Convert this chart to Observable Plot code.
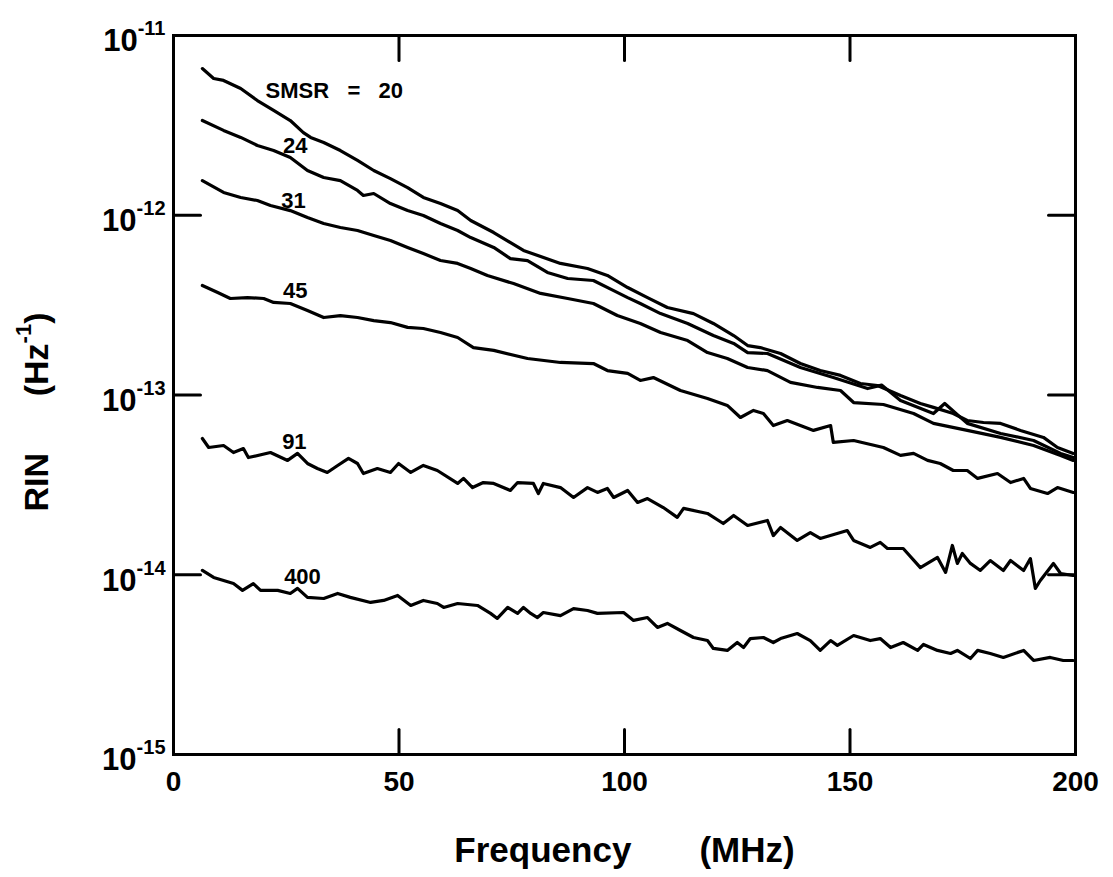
<!DOCTYPE html>
<html><head><meta charset="utf-8">
<script src="https://cdn.jsdelivr.net/npm/d3@7"></script>
<script src="https://cdn.jsdelivr.net/npm/@observablehq/plot@0.6"></script>
<style>body{margin:0;background:#fff}#chart svg{display:block}</style>
</head><body><div id="chart"></div>
<script>
// [frequency (MHz), log10 RIN (Hz^-1)]
const smsr20 = [[6.4,-11.184],[8.9,-11.239],[11.1,-11.250],[14.9,-11.295],[18.6,-11.362],[22.2,-11.417],[25.9,-11.473],[28.8,-11.540],[30.4,-11.567],[33.3,-11.595],[37.0,-11.640],[40.8,-11.695],[44.4,-11.751],[48.1,-11.796],[51.9,-11.846],[55.4,-11.901],[59.2,-11.935],[63.0,-11.974],[65.9,-12.029],[71.0,-12.096],[77.6,-12.196],[85.8,-12.268],[91.8,-12.296],[96.2,-12.335],[100.7,-12.402],[105.1,-12.458],[109.5,-12.513],[115.3,-12.547],[119.7,-12.602],[124.2,-12.669],[127.3,-12.725],[130.1,-12.736],[134.6,-12.769],[139.0,-12.825],[143.4,-12.864],[147.9,-12.891],[152.3,-12.936],[156.1,-12.947],[161.2,-13.003],[165.6,-13.047],[168.5,-13.069],[172.9,-13.103],[176.0,-13.142],[179.6,-13.153],[183.4,-13.158],[187.8,-13.197],[192.9,-13.236],[196.0,-13.292],[199.5,-13.325]];
const smsr24 = [[6.4,-11.473],[11.1,-11.528],[14.9,-11.567],[18.6,-11.612],[22.2,-11.640],[25.9,-11.679],[29.7,-11.751],[33.3,-11.790],[37.0,-11.807],[40.8,-11.862],[42.1,-11.890],[44.4,-11.879],[48.1,-11.935],[51.9,-11.974],[55.4,-12.001],[59.2,-12.046],[63.0,-12.085],[65.9,-12.124],[71.0,-12.179],[74.7,-12.241],[78.5,-12.252],[82.9,-12.318],[87.4,-12.352],[93.1,-12.363],[97.6,-12.419],[100.7,-12.458],[103.5,-12.491],[108.0,-12.547],[114.0,-12.602],[119.7,-12.669],[124.2,-12.713],[127.3,-12.764],[131.7,-12.769],[139.0,-12.847],[146.3,-12.903],[153.9,-12.964],[157.0,-12.945],[161.2,-13.031],[168.5,-13.103],[171.0,-13.047],[176.0,-13.158],[183.4,-13.214],[190.7,-13.253],[196.7,-13.325],[199.5,-13.348]];
const smsr31 = [[6.4,-11.807],[11.1,-11.873],[14.9,-11.901],[18.6,-11.918],[21.5,-11.946],[25.9,-11.974],[29.7,-12.013],[33.3,-12.046],[37.0,-12.068],[40.8,-12.085],[44.4,-12.113],[48.1,-12.140],[51.9,-12.179],[55.4,-12.213],[59.2,-12.252],[63.0,-12.268],[65.9,-12.296],[69.6,-12.335],[75.4,-12.380],[81.4,-12.435],[87.4,-12.463],[93.1,-12.491],[98.4,-12.558],[103.5,-12.602],[108.0,-12.652],[114.0,-12.697],[118.4,-12.764],[122.8,-12.797],[127.3,-12.847],[131.7,-12.864],[136.8,-12.930],[142.8,-12.958],[147.9,-12.975],[150.8,-13.042],[157.4,-13.053],[164.1,-13.103],[168.5,-13.158],[176.0,-13.197],[183.4,-13.236],[190.7,-13.281],[196.7,-13.336],[199.5,-13.364]];
const smsr45 = [[6.4,-12.391],[9.8,-12.430],[12.6,-12.463],[16.4,-12.458],[20.0,-12.463],[22.2,-12.485],[25.9,-12.491],[29.7,-12.530],[33.3,-12.569],[37.0,-12.558],[40.8,-12.569],[44.4,-12.586],[48.1,-12.597],[51.9,-12.624],[55.4,-12.630],[59.2,-12.652],[63.0,-12.680],[66.5,-12.736],[71.0,-12.752],[78.5,-12.797],[85.8,-12.819],[93.1,-12.825],[96.2,-12.864],[100.7,-12.880],[103.5,-12.919],[106.4,-12.903],[112.4,-12.975],[118.4,-13.019],[122.8,-13.058],[125.7,-13.125],[128.6,-13.086],[130.8,-13.103],[133.0,-13.170],[136.1,-13.142],[141.9,-13.197],[145.7,-13.170],[146.3,-13.264],[150.8,-13.253],[157.4,-13.292],[161.2,-13.336],[164.1,-13.325],[167.2,-13.364],[170.0,-13.381],[172.9,-13.420],[176.0,-13.420],[178.3,-13.464],[182.7,-13.437],[185.6,-13.487],[188.5,-13.464],[190.0,-13.520],[193.8,-13.548],[196.0,-13.515],[199.5,-13.542]];
const smsr91 = [[6.4,-13.242],[7.8,-13.292],[11.1,-13.281],[13.3,-13.320],[15.5,-13.298],[16.6,-13.348],[21.5,-13.320],[25.3,-13.364],[27.5,-13.325],[29.7,-13.381],[31.9,-13.409],[34.1,-13.431],[36.4,-13.392],[38.8,-13.353],[40.8,-13.381],[42.1,-13.437],[45.2,-13.409],[48.1,-13.431],[49.9,-13.381],[52.6,-13.431],[55.4,-13.392],[58.5,-13.420],[63.0,-13.492],[64.3,-13.464],[66.3,-13.515],[68.7,-13.487],[71.0,-13.492],[74.7,-13.531],[76.3,-13.487],[79.8,-13.492],[80.9,-13.548],[82.0,-13.492],[85.8,-13.515],[88.7,-13.570],[91.8,-13.515],[94.0,-13.542],[96.2,-13.520],[97.6,-13.570],[100.7,-13.531],[102.9,-13.598],[105.1,-13.576],[108.6,-13.626],[111.7,-13.681],[113.1,-13.631],[118.4,-13.659],[121.9,-13.715],[124.2,-13.670],[127.3,-13.726],[131.7,-13.698],[133.0,-13.782],[134.6,-13.737],[138.3,-13.809],[141.2,-13.765],[143.4,-13.798],[149.4,-13.754],[150.8,-13.809],[154.5,-13.848],[156.7,-13.820],[158.3,-13.854],[161.8,-13.854],[165.6,-13.960],[169.4,-13.904],[171.2,-13.987],[172.7,-13.837],[173.8,-13.937],[174.9,-13.882],[176.7,-13.937],[178.9,-13.976],[181.1,-13.921],[184.0,-13.976],[185.6,-13.921],[188.5,-13.976],[190.0,-13.910],[191.1,-14.076],[192.2,-14.032],[195.1,-13.937],[196.7,-13.993],[199.5,-14.004]];
const smsr400 = [[6.4,-13.976],[8.9,-14.015],[13.3,-14.049],[15.3,-14.087],[17.7,-14.049],[19.3,-14.087],[23.1,-14.087],[25.9,-14.104],[27.5,-14.076],[29.7,-14.126],[33.3,-14.132],[36.4,-14.104],[39.2,-14.126],[43.7,-14.154],[46.6,-14.143],[49.7,-14.115],[52.6,-14.171],[55.4,-14.143],[58.5,-14.160],[59.9,-14.182],[63.0,-14.160],[67.4,-14.171],[70.3,-14.215],[71.8,-14.243],[74.1,-14.182],[76.3,-14.215],[77.6,-14.182],[79.2,-14.215],[80.7,-14.238],[82.0,-14.210],[85.8,-14.227],[88.7,-14.188],[91.8,-14.199],[94.0,-14.215],[99.8,-14.210],[102.0,-14.254],[105.1,-14.238],[107.3,-14.293],[109.5,-14.271],[112.4,-14.310],[115.3,-14.349],[118.4,-14.366],[119.7,-14.410],[122.8,-14.421],[125.0,-14.377],[126.4,-14.405],[127.9,-14.355],[130.8,-14.349],[133.0,-14.377],[134.6,-14.355],[138.3,-14.327],[141.2,-14.366],[143.4,-14.421],[145.7,-14.366],[147.2,-14.393],[150.8,-14.338],[154.5,-14.366],[156.7,-14.355],[159.0,-14.405],[161.8,-14.377],[165.0,-14.421],[166.3,-14.388],[169.4,-14.421],[172.3,-14.438],[173.8,-14.421],[176.7,-14.466],[178.3,-14.421],[181.1,-14.438],[184.0,-14.460],[188.5,-14.421],[190.7,-14.477],[194.4,-14.460],[197.3,-14.477],[199.5,-14.477]];

const seriesNames = ["20", "24", "31", "45", "91", "400"];
const seriesData = [smsr20, smsr24, smsr31, smsr45, smsr91, smsr400];

// curve labels
const titleLabel = "SMSR\u00a0\u00a0\u00a0=\u00a0\u00a0\u00a020";
const titleFreq = 20.4;
const titleLog = -11.306;
const numberLabels = ["24", "31", "45", "91", "400"];
const numberFreq = [27.0, 26.6, 27.0, 26.8, 28.6];
const numberLog = [-11.612, -11.918, -12.419, -13.259, -14.010];

const xTicks = [0, 50, 100, 150, 200];
const xInnerTicks = [50, 100, 150];
const yTicks = [1e-11, 1e-12, 1e-13, 1e-14, 1e-15];
const yInnerTicks = [1e-12, 1e-13, 1e-14];
const xTitle = "Frequency\u00a0\u00a0\u00a0\u00a0\u00a0\u00a0\u00a0(MHz)";
const yTitle = "RIN\u00a0\u00a0\u00a0\u00a0\u00a0\u00a0(Hz^-1^)";

const rows = seriesNames.flatMap((name, i) => seriesData[i].map(([f, lg]) => ({name, f, rin: 10 ** lg})));
const numLabels = numberLabels.map((text, i) => ({text, f: numberFreq[i], rin: 10 ** numberLog[i]}));
const topLabel = [{text: titleLabel, f: titleFreq, rin: 10 ** titleLog}];

const font = "'Liberation Sans', Arial, Helvetica, sans-serif";
const tickLine = {draw(ctx, l) { ctx.moveTo(0, 0); ctx.lineTo(0, -l); }};

const chart = Plot.plot({
  width: 1113, height: 877,
  marginLeft: 173, marginRight: 38, marginTop: 35, marginBottom: 123,
  x: {domain: [0, 200]},
  y: {type: "log", domain: [1e-15, 1e-11]},
  style: {fontFamily: font, fontWeight: "bold", color: "#000", background: "#fff", overflow: "visible"},
  marks: [
    Plot.line(rows, {x: "f", y: "rin", z: "name", stroke: "#000", strokeWidth: 3.2, strokeLinejoin: "round", strokeLinecap: "round"}),
    Plot.frame({stroke: "#000", strokeWidth: 3}),
    Plot.vector(xInnerTicks, {x: d => d, frameAnchor: "bottom", rotate: 0, length: 25, anchor: "start", shape: tickLine, stroke: "#000", strokeWidth: 3}),
    Plot.vector(xInnerTicks, {x: d => d, frameAnchor: "top", rotate: 180, length: 25, anchor: "start", shape: tickLine, stroke: "#000", strokeWidth: 3}),
    Plot.vector(yInnerTicks, {y: d => d, frameAnchor: "left", rotate: 90, length: 27, anchor: "start", shape: tickLine, stroke: "#000", strokeWidth: 3}),
    Plot.vector(yInnerTicks, {y: d => d, frameAnchor: "right", rotate: 270, length: 27, anchor: "start", shape: tickLine, stroke: "#000", strokeWidth: 3}),
    Plot.axisX({ticks: xTicks, tickSize: 0, tickPadding: 17, fontSize: 28, fontWeight: "bold", tickFormat: d => String(d), label: null}),
    Plot.axisY({ticks: yTicks, tickSize: 0, tickPadding: 8, fontSize: 31, fontWeight: "bold", dy: 6, tickFormat: d => `10^${Math.round(Math.log10(d))}^`, label: null}),
    Plot.text(topLabel, {x: "f", y: "rin", text: "text", fontSize: 22, fontWeight: "bold", textAnchor: "start"}),
    Plot.text(numLabels, {x: "f", y: "rin", text: "text", fontSize: 22, fontWeight: "bold", textAnchor: "middle"}),
    Plot.text([xTitle], {frameAnchor: "bottom", dy: 96, lineAnchor: "middle", textAnchor: "middle", text: d => d, fontSize: 35, fontWeight: "bold"}),
    Plot.text([yTitle], {frameAnchor: "left", dx: -136, dy: 17, rotate: -90, textAnchor: "middle", lineAnchor: "middle", text: d => d, fontSize: 34, fontWeight: "bold"})
  ]
});

// render superscripts written as base^exp^rest
chart.querySelectorAll("text").forEach(t => {
  const s = t.textContent;
  const m = s.match(/^([^^]*)\^([^^]*)\^(.*)$/);
  if (!m) return;
  const fs = parseFloat(t.getAttribute("font-size")) || parseFloat(t.parentNode.getAttribute("font-size")) || 30;
  const supSize = Math.round(fs * 0.64);
  const rise = Math.round(fs * 0.5);
  t.textContent = "";
  t.appendChild(document.createTextNode(m[1]));
  const sup = document.createElementNS("http://www.w3.org/2000/svg", "tspan");
  sup.setAttribute("dy", -rise);
  sup.setAttribute("font-size", supSize);
  sup.textContent = m[2];
  t.appendChild(sup);
  if (m[3]) {
    const rest = document.createElementNS("http://www.w3.org/2000/svg", "tspan");
    rest.setAttribute("dy", rise);
    rest.setAttribute("font-size", fs);
    rest.textContent = m[3];
    t.appendChild(rest);
  }
});

document.getElementById("chart").appendChild(chart);
</script>
</body></html>
